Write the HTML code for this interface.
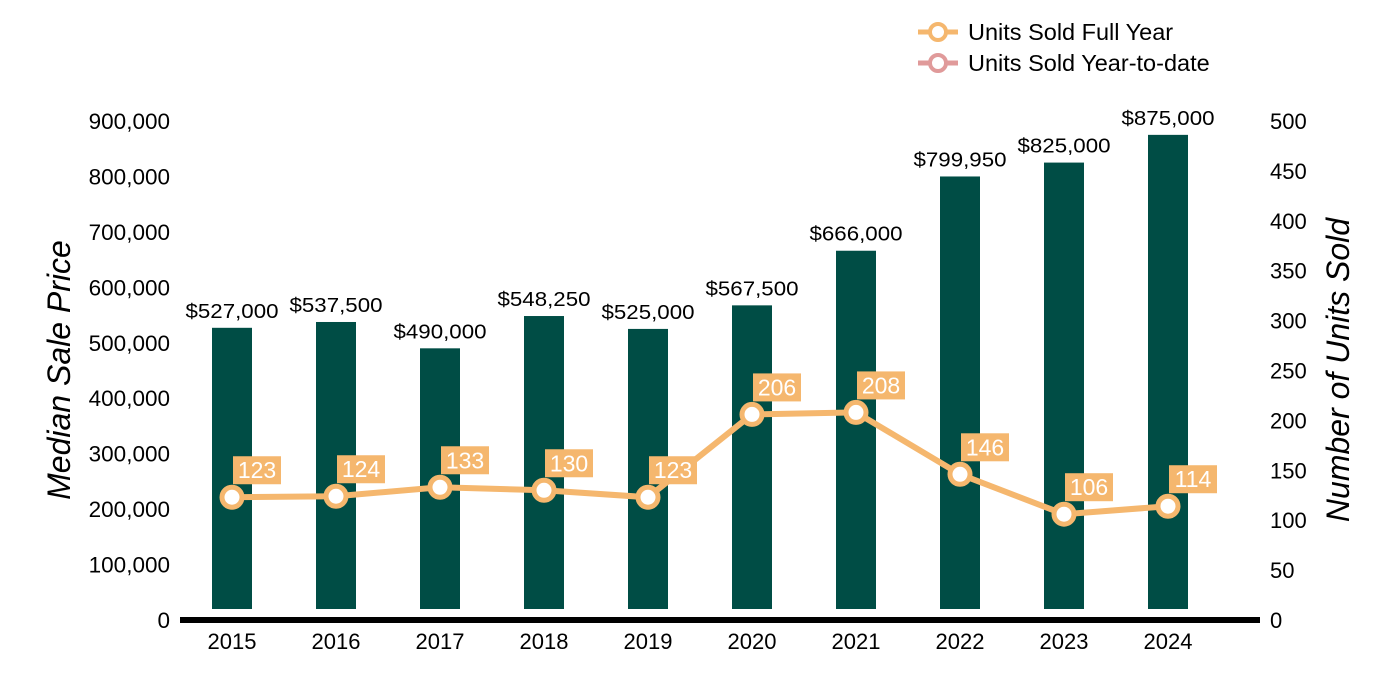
<!DOCTYPE html>
<html><head><meta charset="utf-8"><style>
body{margin:0;background:#fff;}
svg{display:block;font-family:"Liberation Sans",Arial,sans-serif;}
</style></head><body>
<svg width="1400" height="700" viewBox="0 0 1400 700">
<g id="g"></g>
</svg>
<script>
const years=["2015","2016","2017","2018","2019","2020","2021","2022","2023","2024"];
const prices=[527000,537500,490000,548250,525000,567500,666000,799950,825000,875000];
const priceLabels=["$527,000","$537,500","$490,000","$548,250","$525,000","$567,500","$666,000","$799,950","$825,000","$875,000"];
const units=[123,124,133,130,123,206,208,146,106,114];
const leftTicks=[0,100000,200000,300000,400000,500000,600000,700000,800000,900000];
const rightTicks=[0,50,100,150,200,250,300,350,400,450,500];
const NS="http://www.w3.org/2000/svg";
const g=document.getElementById('g');
function el(t,a,txt){const e=document.createElementNS(NS,t);for(const k in a)e.setAttribute(k,a[k]);if(txt!==undefined)e.textContent=txt;g.appendChild(e);return e;}
const y0=620,yTop=121;
const yL=v=>y0-(v/900000)*(y0-yTop);
const yR=v=>y0-(v/500)*(y0-yTop);
const xC=i=>232+i*104;
leftTicks.forEach(v=>{const t=el('text',{x:170,y:yL(v)+8,'text-anchor':'end','font-size':22.5,fill:'#000'},v.toLocaleString('en-US'));
});
rightTicks.forEach(v=>{const t=el('text',{x:1270,y:yR(v)+8,'font-size':22,fill:'#000'},String(v));
});
let t=el('text',{transform:'translate(70,370) rotate(-90)','text-anchor':'middle','font-size':32,'font-style':'italic',fill:'#000'},'Median Sale Price');

t=el('text',{transform:'translate(1349,370) rotate(-90)','text-anchor':'middle','font-size':32,'font-style':'italic',fill:'#000'},'Number of Units Sold');

prices.forEach((v,i)=>{const b=el('rect',{x:xC(i)-20,y:yL(v),width:40,height:609-yL(v),fill:'#004d45'});

const l=el('text',{x:xC(i),y:yL(v)-10,'text-anchor':'middle','font-size':20,textLength:93,lengthAdjust:'spacingAndGlyphs',fill:'#000'},priceLabels[i]);

const x=el('text',{x:xC(i),y:649,'text-anchor':'middle','font-size':22,fill:'#000'},years[i]);
});
const ax=el('rect',{x:180,y:617,width:1080,height:6,fill:'#000'});

const ln=el('polyline',{points:units.map((v,i)=>xC(i)+','+yR(v)).join(' '),fill:'none',stroke:'#f5b76e','stroke-width':6});

units.forEach((v,i)=>{const c=el('circle',{cx:xC(i),cy:yR(v),r:10,fill:'#fff',stroke:'#f5b76e','stroke-width':5});

const bx=el('rect',{x:xC(i)+1,y:yR(v)-41,width:48,height:28,fill:'#f5b76e'});

const lt=el('text',{x:xC(i)+25,y:yR(v)-19,'text-anchor':'middle','font-size':23,fill:'#fff'},String(v));
});
[['Units Sold Full Year','#f5b76e',32],['Units Sold Year-to-date','#e09a9a',63]].forEach(([n,c,y])=>{
const l=el('line',{x1:918,y1:y,x2:958,y2:y,stroke:c,'stroke-width':5});

const ci=el('circle',{cx:938,cy:y,r:8,fill:'#fff',stroke:c,'stroke-width':4});

const tx=el('text',{x:968,y:y+8,'font-size':23.5,fill:'#000'},n);
});
</script>
</body></html>
